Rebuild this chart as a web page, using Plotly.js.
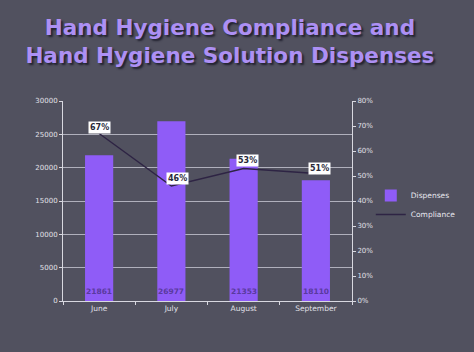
<!DOCTYPE html>
<html>
<head>
<meta charset="utf-8">
<script src="https://cdn.plot.ly/plotly-3.0.1.min.js"></script>
<style>html,body{margin:0;padding:0;background:#51515f;}#chart{width:474px;height:352px;}</style>
</head>
<body>
<div id="chart"></div>
<script>
const months = ["June", "July", "August", "September"];
const dispenses = [21861, 26977, 21353, 18110];
const compliance = [0.67, 0.46, 0.53, 0.51];
const complianceLabels = ["67%", "46%", "53%", "51%"];
const labelShiftX = [0, 6, 4, 4];
const labelShiftY = [0, 1, 2, -1];

const tickFont = {family: "DejaVu Sans", size: 7, color: "#e0e0e8"};

const bars = {
  type: "bar", name: "Dispenses", x: months, y: dispenses,
  marker: {color: "#8f5cf7"}, width: 0.39, hoverinfo: "none"
};
const line = {
  type: "scatter", mode: "lines", name: "Compliance", x: months, y: compliance,
  yaxis: "y2", line: {color: "#2e2444", width: 1.5}, hoverinfo: "none"
};

const annotations = [];
months.forEach((m, i) => {
  annotations.push({
    x: m, y: 0, xref: "x", yref: "y", text: "<b>" + dispenses[i] + "</b>",
    showarrow: false, yanchor: "bottom", yshift: 3,
    font: {family: "DejaVu Sans", size: 7.5, color: "#5a3a9e"}
  });
  annotations.push({
    x: m, y: compliance[i], xref: "x", yref: "y2", text: "<b>" + complianceLabels[i] + "</b>",
    showarrow: false, yanchor: "bottom", xshift: labelShiftX[i], yshift: labelShiftY[i],
    bgcolor: "#ffffff", borderpad: 1,
    font: {family: "DejaVu Sans", size: 8, color: "#2a2a3a"}
  });
});

const layout = {
  width: 474, height: 352,
  paper_bgcolor: "#51515f", plot_bgcolor: "rgba(0,0,0,0)",
  margin: {l: 63, r: 122, t: 101, b: 51},
  title: {
    text: "<b>Hand Hygiene Compliance and<br>Hand Hygiene Solution Dispenses</b>",
    x: 0.485, xanchor: "center", xref: "container", yref: "container", y: 0.9, yanchor: "middle",
    font: {family: "DejaVu Sans", size: 21.5, color: "#ad90f4", shadow: "2px 2px 2px #222230"}
  },
  showlegend: true,
  legend: {
    x: 1.065, xanchor: "left", y: 0.48, yanchor: "middle",
    bgcolor: "rgba(0,0,0,0)", font: {family: "DejaVu Sans", size: 7.5, color: "#e8e8f0"},
    tracegroupgap: 2, itemwidth: 30
  },
  xaxis: {
    showgrid: false, showline: true, linecolor: "#d8d8e0", linewidth: 1,
    ticks: "outside", ticklen: 3, tickcolor: "#d8d8e0", tickson: "boundaries",
    tickfont: {family: "DejaVu Sans", size: 7.5, color: "#e0e0e8"}, fixedrange: true
  },
  yaxis: {
    range: [0, 30000], dtick: 5000, tickformat: "d", showgrid: true, gridcolor: "#b0b0bc", gridwidth: 1,
    showline: true, linecolor: "#d8d8e0", ticks: "outside", ticklen: 3, tickcolor: "#d8d8e0",
    tickfont: tickFont, zeroline: false
  },
  yaxis2: {
    overlaying: "y", side: "right", range: [0, 0.8], dtick: 0.1, tickformat: ".0%",
    showgrid: false, showline: true, linecolor: "#d8d8e0", ticks: "outside", ticklen: 3,
    tickcolor: "#d8d8e0", tickfont: tickFont, zeroline: false
  },
  annotations: annotations
};

Plotly.newPlot("chart", [bars, line], layout, {displayModeBar: false, staticPlot: true});
</script>
</body>
</html>
